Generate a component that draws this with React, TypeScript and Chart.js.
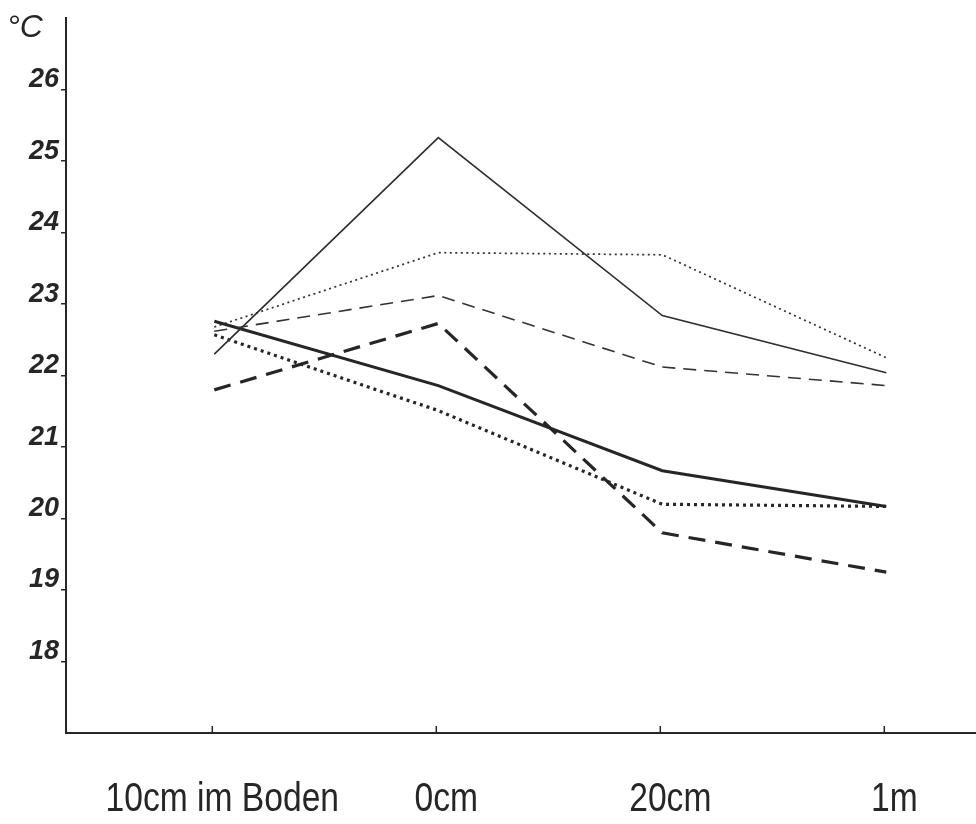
import { useEffect, useRef } from 'react';
import { Chart, registerables } from 'chart.js';

Chart.register(...registerables);

// Measuring heights (x axis) and temperature tick values (y axis)
const depthLabels = ['10cm im Boden', '0cm', '20cm', '1m'];
const tempTicks = [18, 19, 20, 21, 22, 23, 24, 25, 26];

// Temperature profiles in °C, one value per measuring height
const thinSolid = [22.3, 25.33, 22.84, 22.04];
const thinDotted = [22.68, 23.72, 23.69, 22.25];
const thinDashed = [22.62, 23.12, 22.12, 21.86];
const thickSolid = [22.76, 21.86, 20.67, 20.17];
const thickDotted = [22.57, 21.51, 20.2, 20.17];
const thickDashed = [21.8, 22.73, 19.8, 19.25];

const INK = '#262626';

const toPoints = (values: number[]) => values.map((y, i) => ({ x: i, y }));

const paperPlugin = {
  id: 'paper',
  beforeDraw(chart: any) {
    const { ctx, width, height } = chart;
    ctx.save();
    ctx.fillStyle = '#ffffff';
    ctx.fillRect(0, 0, width, height);
    ctx.restore();
  },
  afterDraw(chart: any) {
    const { ctx } = chart;
    const xs = chart.scales.x;
    const bottom = chart.chartArea.bottom;
    ctx.save();
    // unit label at the top of the temperature axis
    ctx.fillStyle = INK;
    ctx.font = 'italic 32px "Liberation Sans", "DejaVu Sans", sans-serif';
    ctx.textAlign = 'left';
    ctx.textBaseline = 'alphabetic';
    ctx.fillText('°C', 7, 37);

    // short tick marks standing on the height axis
    ctx.strokeStyle = INK;
    ctx.lineWidth = 1.5;
    depthLabels.forEach((_, i) => {
      const px = xs.getPixelForValue(i) - 2;
      ctx.beginPath();
      ctx.moveTo(px, bottom);
      ctx.lineTo(px, bottom - 7);
      ctx.stroke();
    });

    // height labels in narrow lettering
    ctx.font = '40px "Liberation Sans", "DejaVu Sans", sans-serif';
    ctx.textAlign = 'center';
    ctx.textBaseline = 'middle';
    depthLabels.forEach((label, i) => {
      const px = xs.getPixelForValue(i) + 8;
      ctx.save();
      ctx.translate(px, 800);
      ctx.scale(0.84, 1);
      ctx.fillText(label, 0, 0);
      ctx.restore();
    });
    ctx.restore();
  },
};

export default function App() {
  const canvasRef = useRef<HTMLCanvasElement | null>(null);

  useEffect(() => {
    const canvas = canvasRef.current;
    if (!canvas) return;

    const line = (values: number[], width: number, dash: number[], color = INK) => ({
      data: toPoints(values),
      borderColor: color,
      borderWidth: width,
      borderDash: dash,
      borderCapStyle: 'butt' as const,
      borderJoinStyle: 'miter' as const,
      pointRadius: 0,
      fill: false,
      tension: 0,
    });

    const chart = new Chart(canvas, {
      type: 'line',
      data: {
        datasets: [
          line(thinSolid, 1.6, [], '#2e2e2e'),
          line(thinDotted, 1.7, [2, 3.5], '#303030'),
          line(thinDashed, 1.6, [13, 8], '#333333'),
          line(thickSolid, 3, []),
          line(thickDotted, 3.2, [3, 4]),
          line(thickDashed, 3.2, [17, 10]),
        ],
      },
      plugins: [paperPlugin],
      options: {
        animation: false,
        responsive: false,
        devicePixelRatio: 1,
        layout: { padding: { top: 13, right: 1, left: 0, bottom: 0 } },
        plugins: {
          legend: { display: false },
          tooltip: { enabled: false },
        },
        scales: {
          x: {
            type: 'linear',
            min: -0.662,
            max: 3.396,
            afterBuildTicks: (scale: any) => {
              scale.ticks = depthLabels.map((_, i) => ({ value: i }));
            },
            afterFit: (scale: any) => {
              scale.height = 91;
            },
            ticks: { display: false },
            grid: { display: true, drawOnChartArea: false, drawTicks: false, color: 'rgba(0,0,0,0)' },
            border: { display: true, color: INK, width: 2 },
          },
          y: {
            type: 'linear',
            min: 17,
            max: 27,
            afterBuildTicks: (scale: any) => {
              scale.ticks = tempTicks.map((v) => ({ value: v }));
            },
            afterFit: (scale: any) => {
              scale.width = 66;
            },
            ticks: {
              color: INK,
              padding: 2,
              labelOffset: -10,
              font: { family: '"Liberation Sans", "DejaVu Sans", sans-serif', size: 27, style: 'italic', weight: 'bold' },
              callback: (v: any) => String(v),
            },
            grid: {
              display: true,
              drawOnChartArea: false,
              drawTicks: true,
              tickLength: 5,
              color: INK,
              lineWidth: 1.5,
            },
            border: { display: true, color: INK, width: 2 },
          },
        },
      },
    });

    return () => chart.destroy();
  }, []);

  return (
    <div style={{ position: 'fixed', left: 0, top: 0, width: 976, height: 824, background: '#ffffff' }}>
      <canvas ref={canvasRef} width={976} height={824} style={{ display: 'block', width: 976, height: 824 }} />
    </div>
  );
}
